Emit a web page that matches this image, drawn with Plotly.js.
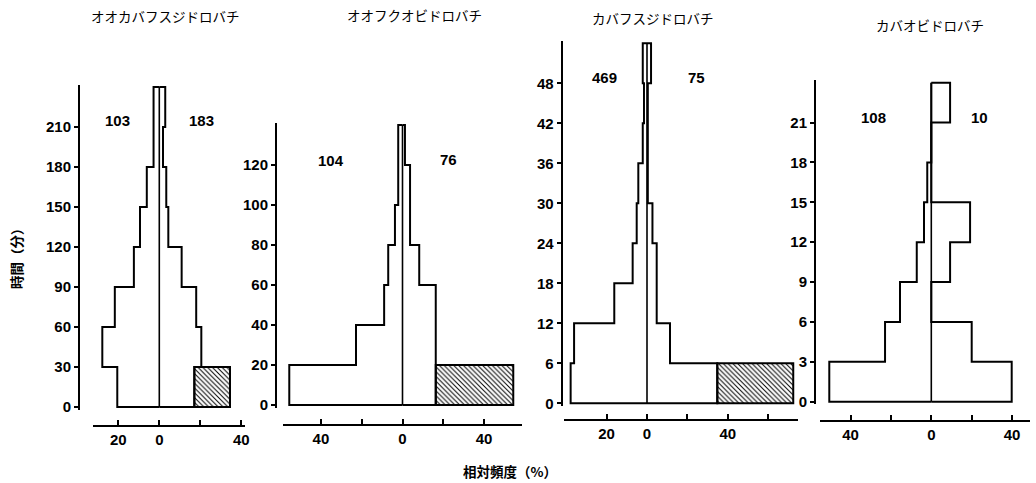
<!DOCTYPE html>
<html>
<head>
<meta charset="utf-8">
<script src="https://cdn.plot.ly/plotly-3.0.1.min.js"></script>
<style>html,body{margin:0;padding:0;background:#fff;}#chart{width:1036px;height:483px;}</style>
</head>
<body>
<div id="chart"></div>
<script>
// ---------- DATA ----------
const titles = ['オオカバフスジドロバチ', 'オオフクオビドロバチ', 'カバフスジドロバチ', 'カバオビドロバチ'];
const countsLeft = ['103', '104', '469', '108'];
const countsRight = ['183', '76', '75', '10'];

// panel 1 (bins of 30 min)
const edges1 = [0, 30, 60, 90, 120, 150, 180, 210, 240];
const left1 = [20.5, 27.8, 21.7, 12.4, 9.4, 6.1, 2.8, 2.8];
const right1 = [17.1, 20.5, 18.0, 10.9, 4.4, 3.4, 1.8, 2.9];
const hatch1 = 17.4;
const yTicks1 = [0, 30, 60, 90, 120, 150, 180, 210];
const xTickVals1 = [-20, 0, 20, 40];
const xTickText1 = ['20', '0', '', '40'];

// panel 2 (bins of 20 min)
const edges2 = [0, 20, 40, 60, 80, 100, 120, 140];
const left2 = [55.5, 22.8, 9.0, 7.0, 3.7, 2.1, 2.1];
const right2 = [16.3, 16.3, 16.3, 8.2, 3.7, 3.7, 1.2];
const hatch2 = 38.0;
const yTicks2 = [0, 20, 40, 60, 80, 100, 120];
const xTickVals2 = [-40, -20, 0, 20, 40];
const xTickText2 = ['40', '', '0', '', '40'];

// panel 3 (bins of 6 min)
const edges3 = [0, 6, 12, 18, 24, 30, 36, 42, 48, 54];
const left3 = [37.8, 36.1, 16.2, 7.1, 5.1, 4.3, 2.1, 1.5, 2.1];
const right3 = [34.8, 11.4, 4.8, 4.8, 2.7, 0.4, 0.4, 0.4, 2.0];
const hatch3 = 37.6;
const yTicks3 = [0, 6, 12, 18, 24, 30, 36, 42, 48];
const xTickVals3 = [-20, 0, 20, 40, 60];
const xTickText3 = ['20', '0', '', '40', ''];

// panel 4 (bins of 3 min)
const edges4 = [0, 3, 6, 9, 12, 15, 18, 21, 24];
const left4 = [50.5, 22.9, 15.5, 7.2, 3.6, 2.0, 0, 0];
const right4 = [39.8, 20.0, 0, 9.3, 19.2, 0, 0, 9.3];
const hatch4 = 0;
const yTicks4 = [0, 3, 6, 9, 12, 15, 18, 21];
const xTickVals4 = [-40, -20, 0, 20, 40];
const xTickText4 = ['40', '', '0', '', '40'];

// ---------- LAYOUT GEOMETRY (pixels) ----------
const W = 1036, H = 483;
const fx = px => px / W;
const fy = py => 1 - py / H;

const geom = [
  {x0: 159.3, ppx: 2.05, L: 93,  R: 245,  xAxisY: 426,   y0: 407,   ppy: 40 / 30, yAxisX: 79,
   title: [165, 16], nl: [117, 120], nr: [201, 120]},
  {x0: 402.5, ppx: 2.04, L: 283, R: 522,  xAxisY: 425,   y0: 405,   ppy: 2,       yAxisX: 276,
   title: [414, 15], nl: [331, 160], nr: [448, 159]},
  {x0: 647,   ppx: 2.02, L: 564, R: 798,  xAxisY: 420,   y0: 403.3, ppy: 360 / 54, yAxisX: 561.7,
   title: [653, 18], nl: [604, 78], nr: [696, 78]},
  {x0: 931.3, ppx: 2.02, L: 820, R: 1030, xAxisY: 420.7, y0: 401.7, ppy: 319 / 24, yAxisX: 815,
   title: [930, 25], nl: [873, 117], nr: [979, 117]}
];

const panels = [
  {edges: edges1, left: left1, right: right1, hatch: hatch1, yTicks: yTicks1, xtv: xTickVals1, xtt: xTickText1},
  {edges: edges2, left: left2, right: right2, hatch: hatch2, yTicks: yTicks2, xtv: xTickVals2, xtt: xTickText2},
  {edges: edges3, left: left3, right: right3, hatch: hatch3, yTicks: yTicks3, xtv: xTickVals3, xtt: xTickText3},
  {edges: edges4, left: left4, right: right4, hatch: hatch4, yTicks: yTicks4, xtv: xTickVals4, xtt: xTickText4}
];

const numFont = {family: 'Liberation Sans, Arial, sans-serif', size: 15, color: '#000', weight: 'bold'};
const traces = [];
const layout = {
  width: W, height: H,
  margin: {l: 0, r: 0, t: 0, b: 0},
  paper_bgcolor: '#fff', plot_bgcolor: 'rgba(0,0,0,0)',
  showlegend: false,
  annotations: [],
  barmode: 'overlay'
};

function outline(edges, vals, sign) {
  const xs = [0], ys = [edges[0]];
  for (let i = 0; i < vals.length; i++) {
    xs.push(sign * vals[i]); ys.push(edges[i]);
    xs.push(sign * vals[i]); ys.push(edges[i + 1]);
  }
  xs.push(0); ys.push(edges[edges.length - 1]);
  return {xs, ys};
}

panels.forEach((p, k) => {
  const g = geom[k];
  const sfx = k === 0 ? '' : String(k + 1);
  const xa = 'x' + sfx, ya = 'y' + sfx;
  const top = p.edges[p.edges.length - 1];
  const pad = 2.5;

  layout['xaxis' + sfx] = {
    anchor: 'free', position: fy(g.xAxisY),
    domain: [fx(g.L), fx(g.R)],
    range: [(g.L - g.x0) / g.ppx, (g.R - g.x0) / g.ppx],
    showline: true, linecolor: '#000', linewidth: 2,
    showgrid: false, zeroline: false,
    ticks: 'inside', ticklen: 5, tickwidth: 2, tickcolor: '#000',
    tickmode: 'array', tickvals: p.xtv, ticktext: p.xtt,
    tickfont: numFont, fixedrange: true
  };
  layout['yaxis' + sfx] = {
    anchor: 'free', position: fx(g.yAxisX),
    domain: [fy(g.y0 + pad), fy(g.y0 - top * g.ppy - pad)],
    range: [-pad / g.ppy, top + pad / g.ppy],
    showline: true, linecolor: '#000', linewidth: 2,
    showgrid: false, zeroline: false,
    ticks: 'outside', ticklen: 4, tickwidth: 2, tickcolor: '#000',
    tickmode: 'array', tickvals: p.yTicks, ticktext: p.yTicks.map(String),
    tickfont: numFont, fixedrange: true
  };

  if (p.hatch > 0) {
    traces.push({
      type: 'bar', orientation: 'h', xaxis: xa, yaxis: ya,
      y: [(p.edges[0] + p.edges[1]) / 2], x: [p.hatch], base: [p.right[0]],
      width: [p.edges[1] - p.edges[0]],
      marker: {color: '#fff', line: {color: '#000', width: 2},
               pattern: {shape: '\\', fgcolor: '#000', bgcolor: '#fff', size: 3.4, solidity: 0.3}},
      hoverinfo: 'skip'
    });
  }

  const lo = outline(p.edges, p.left, -1);
  const ro = outline(p.edges, p.right, 1);
  [lo, ro].forEach(o => traces.push({
    type: 'scatter', mode: 'lines', xaxis: xa, yaxis: ya,
    x: o.xs, y: o.ys, line: {color: '#000', width: 2}, hoverinfo: 'skip'
  }));
  traces.push({
    type: 'scatter', mode: 'lines', xaxis: xa, yaxis: ya,
    x: [0, 0], y: [p.edges[0], top], line: {color: '#000', width: 1.6}, hoverinfo: 'skip'
  });

  layout.annotations.push({
    xref: 'paper', yref: 'paper', x: fx(g.title[0]), y: fy(g.title[1]),
    xanchor: 'center', yanchor: 'middle', showarrow: false, text: titles[k],
    font: {family: 'Noto Sans CJK JP, sans-serif', size: 13.5, color: '#000'}
  });
  layout.annotations.push({
    xref: 'paper', yref: 'paper', x: fx(g.nl[0]), y: fy(g.nl[1]),
    xanchor: 'center', yanchor: 'middle', showarrow: false, text: countsLeft[k], font: numFont
  });
  layout.annotations.push({
    xref: 'paper', yref: 'paper', x: fx(g.nr[0]), y: fy(g.nr[1]),
    xanchor: 'center', yanchor: 'middle', showarrow: false, text: countsRight[k], font: numFont
  });
});

layout.annotations.push({
  xref: 'paper', yref: 'paper', x: fx(510), y: fy(471),
  xanchor: 'center', yanchor: 'middle', showarrow: false, text: '相対頻度（%）',
  font: {family: 'Noto Sans CJK JP, sans-serif', size: 13.5, color: '#000', weight: 'bold'}
});
layout.annotations.push({
  xref: 'paper', yref: 'paper', x: fx(16), y: fy(255),
  xanchor: 'center', yanchor: 'middle', showarrow: false, text: '時間（分）', textangle: -90,
  font: {family: 'Noto Sans CJK JP, sans-serif', size: 13.5, color: '#000', weight: 'bold'}
});

Plotly.newPlot('chart', traces, layout, {staticPlot: true, displayModeBar: false});
</script>
</body>
</html>
